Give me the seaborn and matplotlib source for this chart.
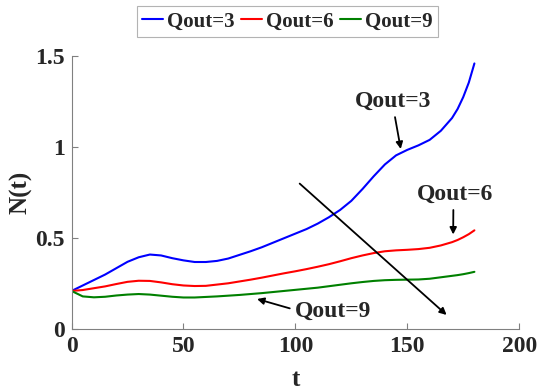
import matplotlib
matplotlib.use("Agg")
import matplotlib.pyplot as plt
import pandas as pd
import seaborn as sns

# valores
t = [0, 5, 10, 15, 20, 25, 30, 35, 40, 45, 50, 55, 60, 65, 70, 75, 80, 85, 90,
     95, 100, 105, 110, 115, 120, 125, 130, 135, 140, 145, 150, 155, 160, 165,
     170, 172.5, 175, 177.5, 180]
n_q3 = [0.21, 0.24, 0.27, 0.30, 0.335, 0.37, 0.395, 0.41, 0.405, 0.39, 0.378,
        0.369, 0.369, 0.375, 0.388, 0.408, 0.428, 0.45, 0.475, 0.50, 0.525,
        0.55, 0.58, 0.615, 0.655, 0.705, 0.77, 0.84, 0.905, 0.955, 0.985,
        1.01, 1.04, 1.09, 1.16, 1.21, 1.275, 1.355, 1.46]
n_q6 = [0.21, 0.215, 0.225, 0.235, 0.248, 0.26, 0.266, 0.265, 0.257, 0.247,
        0.24, 0.237, 0.238, 0.245, 0.252, 0.262, 0.272, 0.283, 0.295, 0.307,
        0.318, 0.33, 0.343, 0.357, 0.373, 0.39, 0.405, 0.418, 0.428, 0.433,
        0.436, 0.44, 0.447, 0.46, 0.478, 0.49, 0.505, 0.522, 0.543]
n_q9 = [0.21, 0.18, 0.175, 0.178, 0.185, 0.19, 0.193, 0.19, 0.184, 0.178,
        0.174, 0.174, 0.177, 0.18, 0.184, 0.188, 0.193, 0.198, 0.204, 0.21,
        0.216, 0.222, 0.228, 0.236, 0.244, 0.252, 0.259, 0.265, 0.269, 0.271,
        0.272, 0.273, 0.277, 0.285, 0.293, 0.297, 0.302, 0.308, 0.315]
series = ["Qout=3", "Qout=6", "Qout=9"]
cores = ["#0000ff", "#ff0000", "#008000"]

df = pd.concat([
    pd.DataFrame({"t": t, "N": vals, "serie": nome})
    for nome, vals in zip(series, [n_q3, n_q6, n_q9])
])

sns.set_theme(style="white")
plt.rcParams["font.family"] = ["Liberation Serif", "DejaVu Serif"]
plt.rcParams["font.weight"] = "bold"

fig = plt.figure(figsize=(5.38, 3.9), dpi=100)
ax = fig.add_axes([0.133, 0.156, 0.832, 0.70])

sns.lineplot(data=df, x="t", y="N", hue="serie", palette=cores,
             linewidth=1.5, ax=ax, legend=True)

ax.set_xlim(0, 200)
ax.set_ylim(0, 1.5)
ax.set_xticks([0, 50, 100, 150, 200])
ax.set_yticks([0, 0.5, 1, 1.5])
ax.set_yticklabels(["0", "0.5", "1", "1.5"])
ax.set_xlabel("t", fontsize=18, fontweight="bold", labelpad=8)
ax.set_ylabel("N(t)", fontsize=18, fontweight="bold", labelpad=2)
ax.tick_params(direction="in", length=4, width=0.8, color="#808080",
               labelsize=17, bottom=True, left=True)
ax.tick_params(axis="x", pad=5)
ax.tick_params(axis="y", pad=5)
for lbl in ax.get_xticklabels() + ax.get_yticklabels():
    lbl.set_fontweight("bold")
sns.despine(ax=ax)
for lado in ("left", "bottom"):
    ax.spines[lado].set_color("#808080")
    ax.spines[lado].set_linewidth(0.8)

leg = ax.legend(loc="center", bbox_to_anchor=(0.534, 0.945),
                bbox_transform=fig.transFigure, ncol=3, frameon=True,
                fancybox=False, edgecolor="#a0a0a0", fontsize=15,
                handlelength=1.0, handletextpad=0.2, columnspacing=0.3,
                borderpad=0.25, borderaxespad=0)
leg.get_frame().set_linewidth(0.8)
for txt in leg.get_texts():
    txt.set_fontweight("bold")

seta = dict(arrowstyle="-|>", color="black", lw=1.3, mutation_scale=10)
ax.text(143.8, 1.25, "Qout=3", fontsize=17, fontweight="bold",
        ha="center", va="center")
ax.annotate("", xy=(147.3, 0.975), xytext=(144.3, 1.18), arrowprops=seta)
ax.text(171.4, 0.74, "Qout=6", fontsize=17, fontweight="bold",
        ha="center", va="center")
ax.annotate("", xy=(170.5, 0.505), xytext=(170.6, 0.67), arrowprops=seta)
ax.text(117, 0.10, "Qout=9", fontsize=17, fontweight="bold",
        ha="center", va="center")
ax.annotate("", xy=(81.7, 0.17), xytext=(98.7, 0.11), arrowprops=seta)
ax.annotate("", xy=(168.5, 0.068), xytext=(101, 0.81), arrowprops=seta)

fig.savefig("out.png", dpi=100)
